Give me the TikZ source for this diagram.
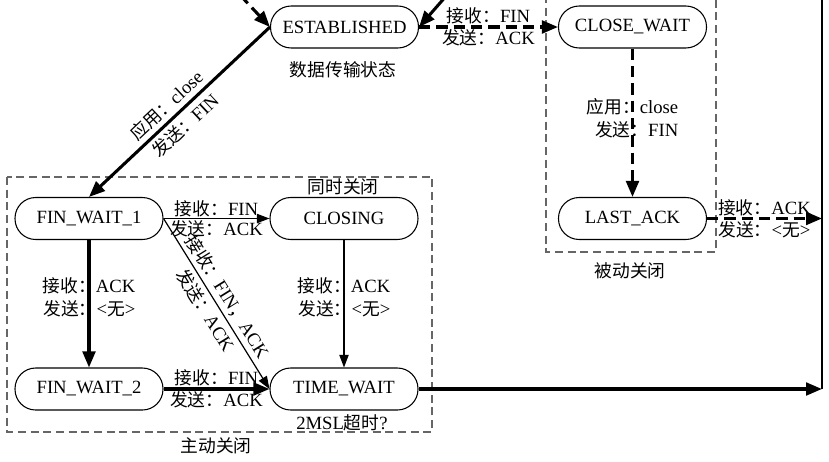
\documentclass[tikz,border=0pt]{standalone}
\usepackage{fontspec}
\setmainfont{Liberation Serif}
\newfontfamily\cjk[Scale=0.95]{Noto Sans CJK SC}
\usetikzlibrary{arrows.meta}
\newcommand{\zh}[1]{{\cjk #1}}
\begin{document}
\begin{tikzpicture}[x=0.75pt,y=-0.75pt,
  font=\fontsize{14}{17}\selectfont,
  state/.style={draw, line width=0.8pt, rounded corners=15.5pt, minimum width=111pt, minimum height=31.5pt, inner sep=0pt},
  bigarrow/.style={line width=2.3pt, -{Triangle[length=12pt,width=9.5pt]}},
  smallarrow/.style={line width=0.9pt, -{Triangle[length=9.5pt,width=7pt]}},
  dasharrow/.style={bigarrow, dash pattern=on 8.5pt off 4.5pt},
  groupbox/.style={draw=black!60, line width=1.1pt, dash pattern=on 6pt off 3.5pt},
  lbl/.style={inner sep=1pt},
  dlbl/.style={inner sep=3pt},
  vlbl/.style={inner sep=0pt, align=right}]
\clip (0,0) rectangle (829,461);
\fill[white] (0,0) rectangle (829,461);

% group boxes
\draw[groupbox] (7,177) rectangle (432,432);
\draw[groupbox] (546,-5) -- (546,252) -- (716,252) -- (716,-5);

% states
\node[state] (est) at (344.5,27) {ESTABLISHED};
\node[state] (cw) at (632.5,27) {CLOSE\_WAIT};
\node[state] (la) at (632.5,218.5) {LAST\_ACK};
\node[state] (fw1) at (89,218.5) {FIN\_WAIT\_1};
\node[state] (cl) at (344,218.5) {CLOSING};
\node[state] (fw2) at (89,389) {FIN\_WAIT\_2};
\node[state] (tw) at (344,389) {TIME\_WAIT};

% group labels
\node (tdata) at (343,70) {\zh{数据传输状态}};
\node (tsim) at (343,187) {\zh{同时关闭}};
\node (tmsl) at (342,423) {2MSL\zh{超时}?};
\node (tact) at (216,446) {\zh{主动关闭}};
\node (tpas) at (630,271) {\zh{被动关闭}};

% right line
\coordinate (rtop) at (822,-5);
\coordinate (rbot) at (822,389);
\coordinate (rla) at (822,218.5);
\draw[line width=0.9pt] (rtop) -- (rbot);

% incoming arrows at top
\coordinate (in1) at (240,-5);
\coordinate (in2) at (447,-5);
\draw[dasharrow] (in1) -- (est.west);
\draw[bigarrow] (in2) -- (est.east);

% transitions
\draw[dasharrow] (est.east) -- (cw.west)
  node[midway, above, lbl] {\zh{接收：}FIN}
  node[midway, below, lbl] {\zh{发送：}ACK};
\draw[dasharrow] (cw.south) -- (la.north)
  node[pos=0.47, vlbl] {\zh{应用：}close\\\zh{发送：}FIN};
\draw[dasharrow] (la.east) -- (rla)
  node[midway, above, lbl] {\zh{接收：}ACK}
  node[midway, below, lbl] {\zh{发送：}<\zh{无}>};

\draw[bigarrow] (est.west) -- (fw1.north)
  node[pos=0.52, sloped, above, dlbl] {\zh{应用：}close}
  node[pos=0.52, sloped, below, dlbl] {\zh{发送：}FIN};

\draw[smallarrow] (fw1.east) -- (cl.west)
  node[midway, above, lbl] {\zh{接收：}FIN}
  node[midway, below, lbl] {\zh{发送：}ACK};
\draw[bigarrow] (fw1.south) -- (fw2.north)
  node[pos=0.45, vlbl] {\zh{接收：}ACK\\\zh{发送：}<\zh{无}>};
\draw[smallarrow] (cl.south) -- (tw.north)
  node[pos=0.45, vlbl] {\zh{接收：}ACK\\\zh{发送：}<\zh{无}>};
\draw[smallarrow] (fw1.east) -- (tw.west)
  node[pos=0.5, sloped, above, dlbl] {\zh{接收：}FIN\zh{，}ACK}
  node[pos=0.5, sloped, below, dlbl] {\zh{发送：}ACK};
\draw[bigarrow] (fw2.east) -- (tw.west)
  node[midway, above, lbl] {\zh{接收：}FIN}
  node[midway, below, lbl] {\zh{发送：}ACK};
\draw[bigarrow] (tw.east) -- (rbot);
\end{tikzpicture}
\end{document}
